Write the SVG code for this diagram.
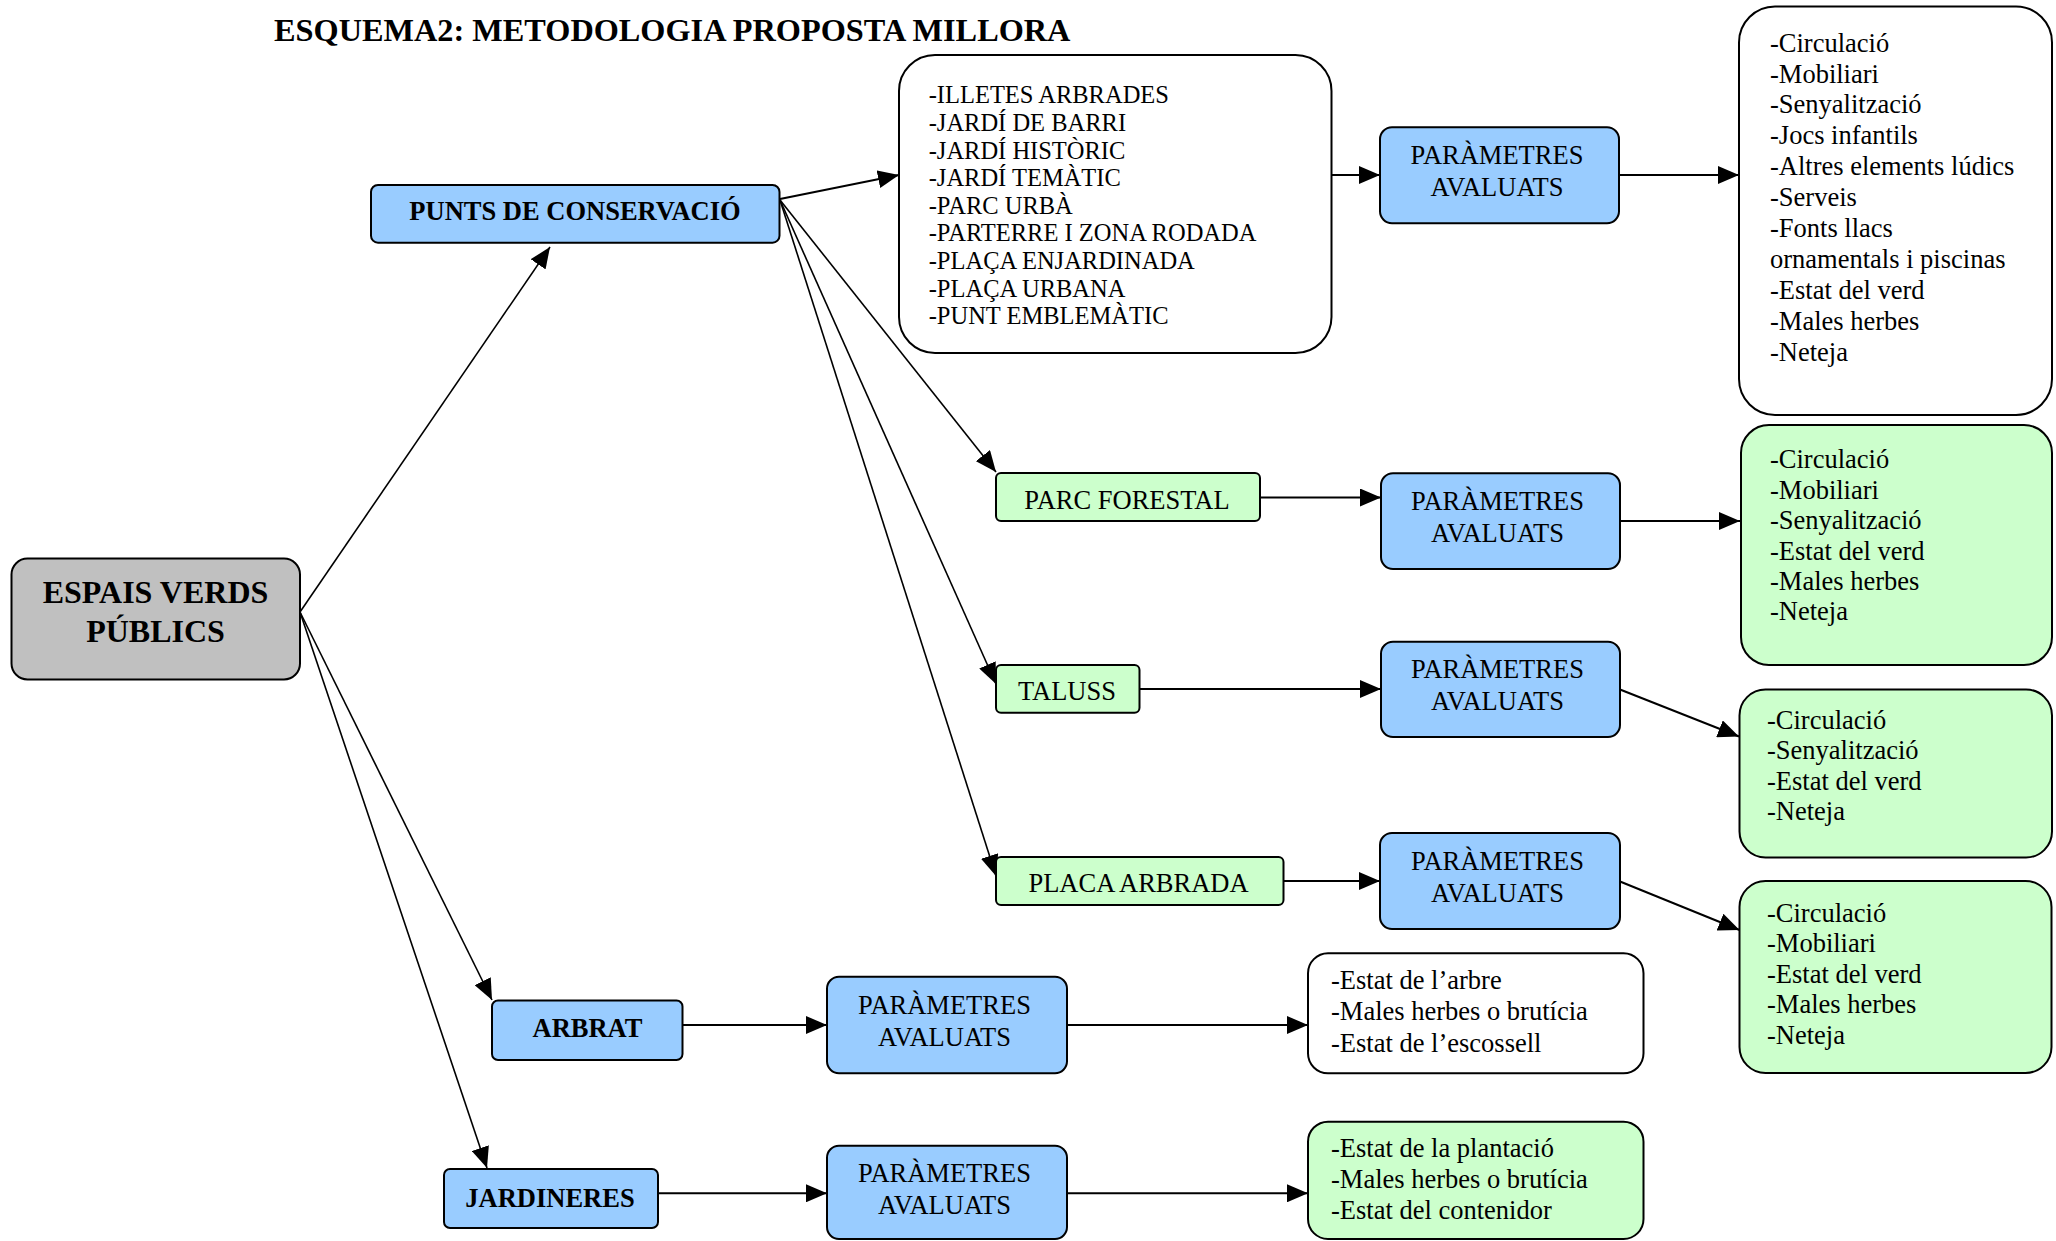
<svg xmlns="http://www.w3.org/2000/svg" width="2056" height="1241" viewBox="0 0 2056 1241">
<style>
text{font-family:"Liberation Serif","Times New Roman",serif;fill:#000}
.t{font-size:26.5px}
.tb{font-size:26.5px;font-weight:bold}
.c{text-anchor:middle}
.l24{font-size:24.5px}
.box{stroke:#000;stroke-width:2}
.blue{fill:#99ccff}
.green{fill:#ccffcc}
.white{fill:#fff}
.gray{fill:#c0c0c0}
.cn line{stroke:#000;stroke-width:2;marker-end:url(#ah)}
.cn line.thin{stroke-width:1.6}
</style>
<defs>
<marker id="ah" markerUnits="userSpaceOnUse" markerWidth="22" markerHeight="18" refX="21" refY="9" orient="auto">
<path d="M0,0 L21,9 L0,18 z" fill="#000"/>
</marker>
</defs>
<rect width="2056" height="1241" fill="#fff"/>
<text x="274" y="41" style="font-size:32.3px;font-weight:bold">ESQUEMA2: METODOLOGIA PROPOSTA MILLORA</text>

<g class="cn">
<line class="thin" x1="300" y1="612" x2="550" y2="247"/>
<line class="thin" x1="300" y1="612" x2="492" y2="1000"/>
<line class="thin" x1="300" y1="612" x2="487" y2="1168"/>
<line x1="780" y1="199" x2="899" y2="175"/>
<line class="thin" x1="780" y1="200" x2="996" y2="472"/>
<line class="thin" x1="780" y1="200" x2="996" y2="684"/>
<line class="thin" x1="780" y1="200" x2="996" y2="876"/>
<line x1="1331" y1="175" x2="1380" y2="175"/>
<line x1="1619" y1="175" x2="1739" y2="175"/>
<line x1="1260" y1="497.5" x2="1381" y2="497.5"/>
<line x1="1620" y1="521" x2="1740" y2="521"/>
<line x1="1139.5" y1="689" x2="1381" y2="689"/>
<line x1="1620" y1="689.5" x2="1739" y2="736.5"/>
<line x1="1283.5" y1="881" x2="1380" y2="881"/>
<line x1="1620" y1="881.5" x2="1739.5" y2="930"/>
<line x1="682.5" y1="1025" x2="827" y2="1025"/>
<line x1="1067" y1="1025" x2="1308" y2="1025"/>
<line x1="658" y1="1193.3" x2="827" y2="1193.3"/>
<line x1="1067" y1="1193.3" x2="1308" y2="1193.3"/>
</g>

<g id="espais">
<rect class="box gray" x="11.5" y="558.5" width="288.5" height="121" rx="16"/>
<text class="c" x="155.5" y="603.3" style="font-size:32px;font-weight:bold">ESPAIS VERDS</text>
<text class="c" x="155.5" y="641.7" style="font-size:32px;font-weight:bold">PÚBLICS</text>
</g>

<g id="punts">
<rect class="box blue" x="371" y="185" width="408.5" height="57.7" rx="7"/>
<text class="tb c" x="575" y="220">PUNTS DE CONSERVACIÓ</text>
</g>

<g id="llista">
<rect class="box white" x="899" y="55" width="432.5" height="298" rx="36"/>
<text class="l24" x="928.7" y="103.3">-ILLETES ARBRADES</text>
<text class="l24" x="928.7" y="130.9">-JARDÍ DE BARRI</text>
<text class="l24" x="928.7" y="158.5">-JARDÍ HISTÒRIC</text>
<text class="l24" x="928.7" y="186.1">-JARDÍ TEMÀTIC</text>
<text class="l24" x="928.7" y="213.7">-PARC URBÀ</text>
<text class="l24" x="928.7" y="241.3">-PARTERRE I ZONA RODADA</text>
<text class="l24" x="928.7" y="268.9">-PLAÇA ENJARDINADA</text>
<text class="l24" x="928.7" y="296.5">-PLAÇA URBANA</text>
<text class="l24" x="928.7" y="324.1">-PUNT EMBLEMÀTIC</text>
</g>

<g id="param1">
<rect class="box blue" x="1380" y="127.3" width="239" height="96" rx="12"/>
<text class="t c" x="1497" y="163.5">PARÀMETRES</text>
<text class="t c" x="1497" y="195.5">AVALUATS</text>
</g>

<g id="llista-r1">
<rect class="box white" x="1739" y="6.5" width="313" height="408.5" rx="36"/>
<text class="t" x="1770" y="51.5">-Circulació</text>
<text class="t" x="1770" y="82.5">-Mobiliari</text>
<text class="t" x="1770" y="113.4">-Senyalització</text>
<text class="t" x="1770" y="144.4">-Jocs infantils</text>
<text class="t" x="1770" y="175.3">-Altres elements lúdics</text>
<text class="t" x="1770" y="206.3">-Serveis</text>
<text class="t" x="1770" y="237.2">-Fonts llacs</text>
<text class="t" x="1770" y="268.2">ornamentals i piscinas</text>
<text class="t" x="1770" y="299.1">-Estat del verd</text>
<text class="t" x="1770" y="330.1">-Males herbes</text>
<text class="t" x="1770" y="361">-Neteja</text>
</g>

<g id="parc-forestal">
<rect class="box green" x="996" y="473" width="264" height="48" rx="5"/>
<text class="t c" x="1127" y="508.5">PARC FORESTAL</text>
</g>

<g id="param2">
<rect class="box blue" x="1381" y="473.3" width="239" height="95.7" rx="12"/>
<text class="t c" x="1497.5" y="510">PARÀMETRES</text>
<text class="t c" x="1497.5" y="541.7">AVALUATS</text>
</g>

<g id="verd1">
<rect class="box green" x="1741" y="425" width="311" height="240" rx="28"/>
<text class="t" x="1770" y="468.3">-Circulació</text>
<text class="t" x="1770" y="498.7">-Mobiliari</text>
<text class="t" x="1770" y="529.1">-Senyalització</text>
<text class="t" x="1770" y="559.5">-Estat del verd</text>
<text class="t" x="1770" y="589.9">-Males herbes</text>
<text class="t" x="1770" y="620.3">-Neteja</text>
</g>

<g id="taluss">
<rect class="box green" x="996" y="665" width="143.5" height="47.7" rx="5"/>
<text class="t c" x="1067" y="700">TALUSS</text>
</g>

<g id="param3">
<rect class="box blue" x="1381" y="641.7" width="239" height="95.3" rx="12"/>
<text class="t c" x="1497.5" y="678.3">PARÀMETRES</text>
<text class="t c" x="1497.5" y="710">AVALUATS</text>
</g>

<g id="verd2">
<rect class="box green" x="1739.5" y="689.5" width="312.5" height="168" rx="26"/>
<text class="t" x="1767" y="728.5">-Circulació</text>
<text class="t" x="1767" y="759">-Senyalització</text>
<text class="t" x="1767" y="789.5">-Estat del verd</text>
<text class="t" x="1767" y="820">-Neteja</text>
</g>

<g id="placa">
<rect class="box green" x="996" y="857" width="287.5" height="48" rx="5"/>
<text class="t c" x="1138.5" y="892">PLACA ARBRADA</text>
</g>

<g id="param4">
<rect class="box blue" x="1380" y="833" width="240" height="96" rx="12"/>
<text class="t c" x="1497.5" y="869.5">PARÀMETRES</text>
<text class="t c" x="1497.5" y="901.5">AVALUATS</text>
</g>

<g id="verd4">
<rect class="box green" x="1739.5" y="881" width="312" height="192" rx="26"/>
<text class="t" x="1767" y="921.5">-Circulació</text>
<text class="t" x="1767" y="952">-Mobiliari</text>
<text class="t" x="1767" y="982.5">-Estat del verd</text>
<text class="t" x="1767" y="1013">-Males herbes</text>
<text class="t" x="1767" y="1043.5">-Neteja</text>
</g>

<g id="arbrat">
<rect class="box blue" x="492" y="1000.5" width="190.5" height="59.5" rx="6"/>
<text class="tb c" x="587.5" y="1036.7">ARBRAT</text>
</g>

<g id="param-arbrat">
<rect class="box blue" x="827" y="976.7" width="240" height="96.6" rx="12"/>
<text class="t c" x="944.5" y="1014">PARÀMETRES</text>
<text class="t c" x="944.5" y="1045.7">AVALUATS</text>
</g>

<g id="llista-arbrat">
<rect class="box white" x="1308" y="953.3" width="335.5" height="120" rx="20"/>
<text class="t" x="1331" y="988.5">-Estat de l’arbre</text>
<text class="t" x="1331" y="1020.3">-Males herbes o brutícia</text>
<text class="t" x="1331" y="1052">-Estat de l’escossell</text>
</g>

<g id="jardineres">
<rect class="box blue" x="444" y="1169" width="214" height="59" rx="6"/>
<text class="tb c" x="550" y="1206.7">JARDINERES</text>
</g>

<g id="param-jardineres">
<rect class="box blue" x="827" y="1145.7" width="240" height="93.3" rx="12"/>
<text class="t c" x="944.5" y="1182.3">PARÀMETRES</text>
<text class="t c" x="944.5" y="1213.5">AVALUATS</text>
</g>

<g id="llista-jardineres">
<rect class="box green" x="1308" y="1121.7" width="335.5" height="117.3" rx="20"/>
<text class="t" x="1331" y="1156.7">-Estat de la plantació</text>
<text class="t" x="1331" y="1188">-Males herbes o brutícia</text>
<text class="t" x="1331" y="1219.3">-Estat del contenidor</text>
</g>
</svg>
